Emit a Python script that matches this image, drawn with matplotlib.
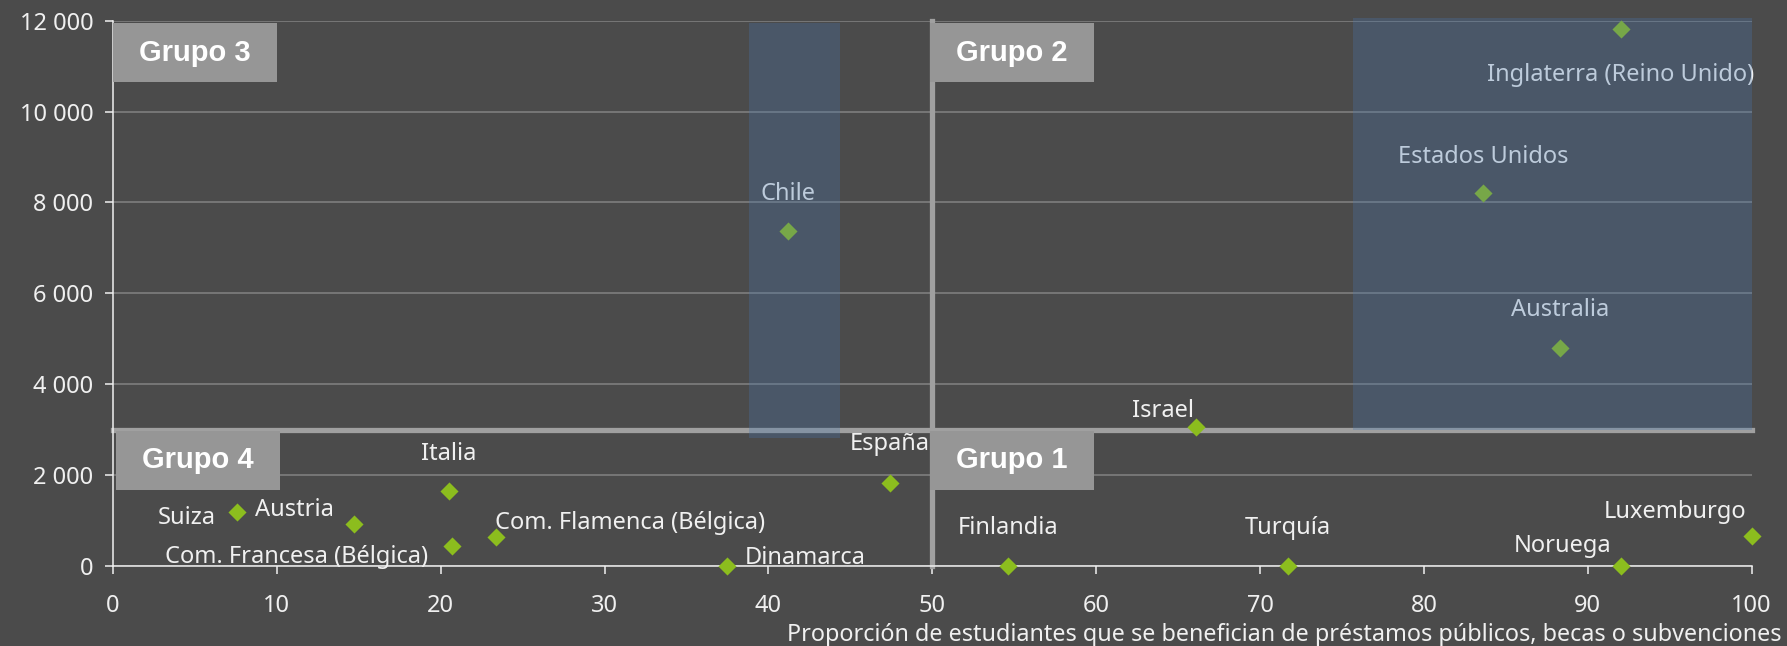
import matplotlib
matplotlib.use('Agg')
import matplotlib.pyplot as plt
from matplotlib.patches import Rectangle
from matplotlib.ticker import FuncFormatter

# datos
countries = ['Suiza', 'Austria', 'Italia', 'Com. Francesa (Bélgica)',
             'Com. Flamenca (Bélgica)', 'Dinamarca', 'España', 'Chile',
             'Finlandia', 'Israel', 'Turquía', 'Noruega', 'Luxemburgo',
             'Australia', 'Estados Unidos', 'Inglaterra (Reino Unido)']
share = [7.6, 14.7, 20.5, 20.7, 23.4, 37.5, 47.4, 41.2,
         54.6, 66.1, 71.7, 92.0, 100.0, 88.3, 83.6, 92.0]
fees = [1180, 920, 1650, 430, 630, 0, 1830, 7370,
        0, 3050, 0, 0, 670, 4790, 8210, 11810]

x_ticks = list(range(0, 101, 10))
y_ticks = list(range(0, 12001, 2000))
x_split = 50
y_split = 3000
x_label = 'Proporción de estudiantes que se benefician de préstamos públicos, becas o subvenciones'

# etiquetas de grupo: (texto, x0, x1, y0, y1)
groups = [('Grupo 3', 0.0, 10.0, 10650, 11940),
          ('Grupo 2', 49.85, 59.85, 10650, 11940),
          ('Grupo 4', 0.2, 10.2, 1680, 2964),
          ('Grupo 1', 49.85, 59.85, 1680, 2964)]

# bandas resaltadas: (x0, x1, y0, y1)
bands = [(38.8, 44.35, 2820, 11950),
         (75.66, 100.0, 3000, 12050)]

# posicion de cada etiqueta (dx, dy en pixeles, alineacion)
label_pos = {
    'Suiza': (-22, -12, 'right'),
    'Austria': (-20, 8, 'right'),
    'Italia': (0, 31, 'center'),
    'Com. Francesa (Bélgica)': (-24, -17, 'right'),
    'Com. Flamenca (Bélgica)': (-1, 8, 'left'),
    'Dinamarca': (17, 2, 'left'),
    'España': (0, 33, 'center'),
    'Chile': (0, 31, 'center'),
    'Finlandia': (0, 32, 'center'),
    'Israel': (-2, 10, 'right'),
    'Turquía': (0, 32, 'center'),
    'Noruega': (-9, 14, 'right'),
    'Luxemburgo': (-5, 18, 'right'),
    'Australia': (0, 32, 'center'),
    'Estados Unidos': (0, 30, 'center'),
    'Inglaterra (Reino Unido)': (0, -52, 'center'),
}

bg = '#4b4b4b'
fg = '#f0f0f0'
plt.rcParams['font.family'] = ['Noto Sans', 'DejaVu Sans']

fig = plt.figure(figsize=(17.87, 6.46), dpi=100, facecolor=bg)
ax = fig.add_axes([0.0632, 0.1238, 0.917, 0.8442])
ax.set_facecolor(bg)

ax.set_xlim(0, 100)
ax.set_ylim(0, 12000)
ax.set_xticks(x_ticks)
ax.set_yticks(y_ticks)
ax.yaxis.set_major_formatter(FuncFormatter(lambda v, p: f'{int(v):,}'.replace(',', ' ')))
ax.tick_params(colors=fg, labelsize=17, length=6, width=1.1)
ax.tick_params(axis='y', pad=8)
ax.tick_params(axis='x', pad=14)
for s in ['top', 'right']:
    ax.spines[s].set_visible(False)
for s in ['left', 'bottom']:
    ax.spines[s].set_color(fg)
    ax.spines[s].set_linewidth(1.1)

ax.yaxis.grid(True, color='#828282', lw=1.1)
ax.set_axisbelow(True)

# lineas separadoras de cuadrantes
ax.plot([x_split, x_split], [0, 12000], color='#a0a0a0', lw=3.8, zorder=2, clip_on=False)
ax.plot([0, 100], [y_split, y_split], color='#a0a0a0', lw=3.8, zorder=2, clip_on=False)

ax.scatter(share, fees, marker='D', s=85, color='#8cbd1e', zorder=4, clip_on=False, linewidths=0)

for name, x, y in zip(countries, share, fees):
    dx, dy, ha = label_pos[name]
    ax.annotate(name, (x, y), xytext=(dx, dy), textcoords='offset pixels',
                ha=ha, va='baseline', color=fg, fontsize=17, zorder=5)

for txt, x0, x1, y0, y1 in groups:
    ax.add_patch(Rectangle((x0, y0), x1 - x0, y1 - y0, facecolor='#969696',
                           edgecolor='none', zorder=6))
    ax.text((x0 + x1) / 2, (y0 + y1) / 2, txt, ha='center', va='center',
            color='white', fontsize=21, fontweight='bold',
            family=['Liberation Sans', 'DejaVu Sans'], zorder=7)

for x0, x1, y0, y1 in bands:
    ax.add_patch(Rectangle((x0, y0), x1 - x0, y1 - y0, facecolor='#4876ac',
                           alpha=0.3, edgecolor='none', zorder=8, clip_on=False))

fig.text(0.997, 0.008, x_label, ha='right', va='baseline', color=fg, fontsize=16.8)

plt.savefig('out.png', dpi=100, facecolor=bg)
plt.close()
